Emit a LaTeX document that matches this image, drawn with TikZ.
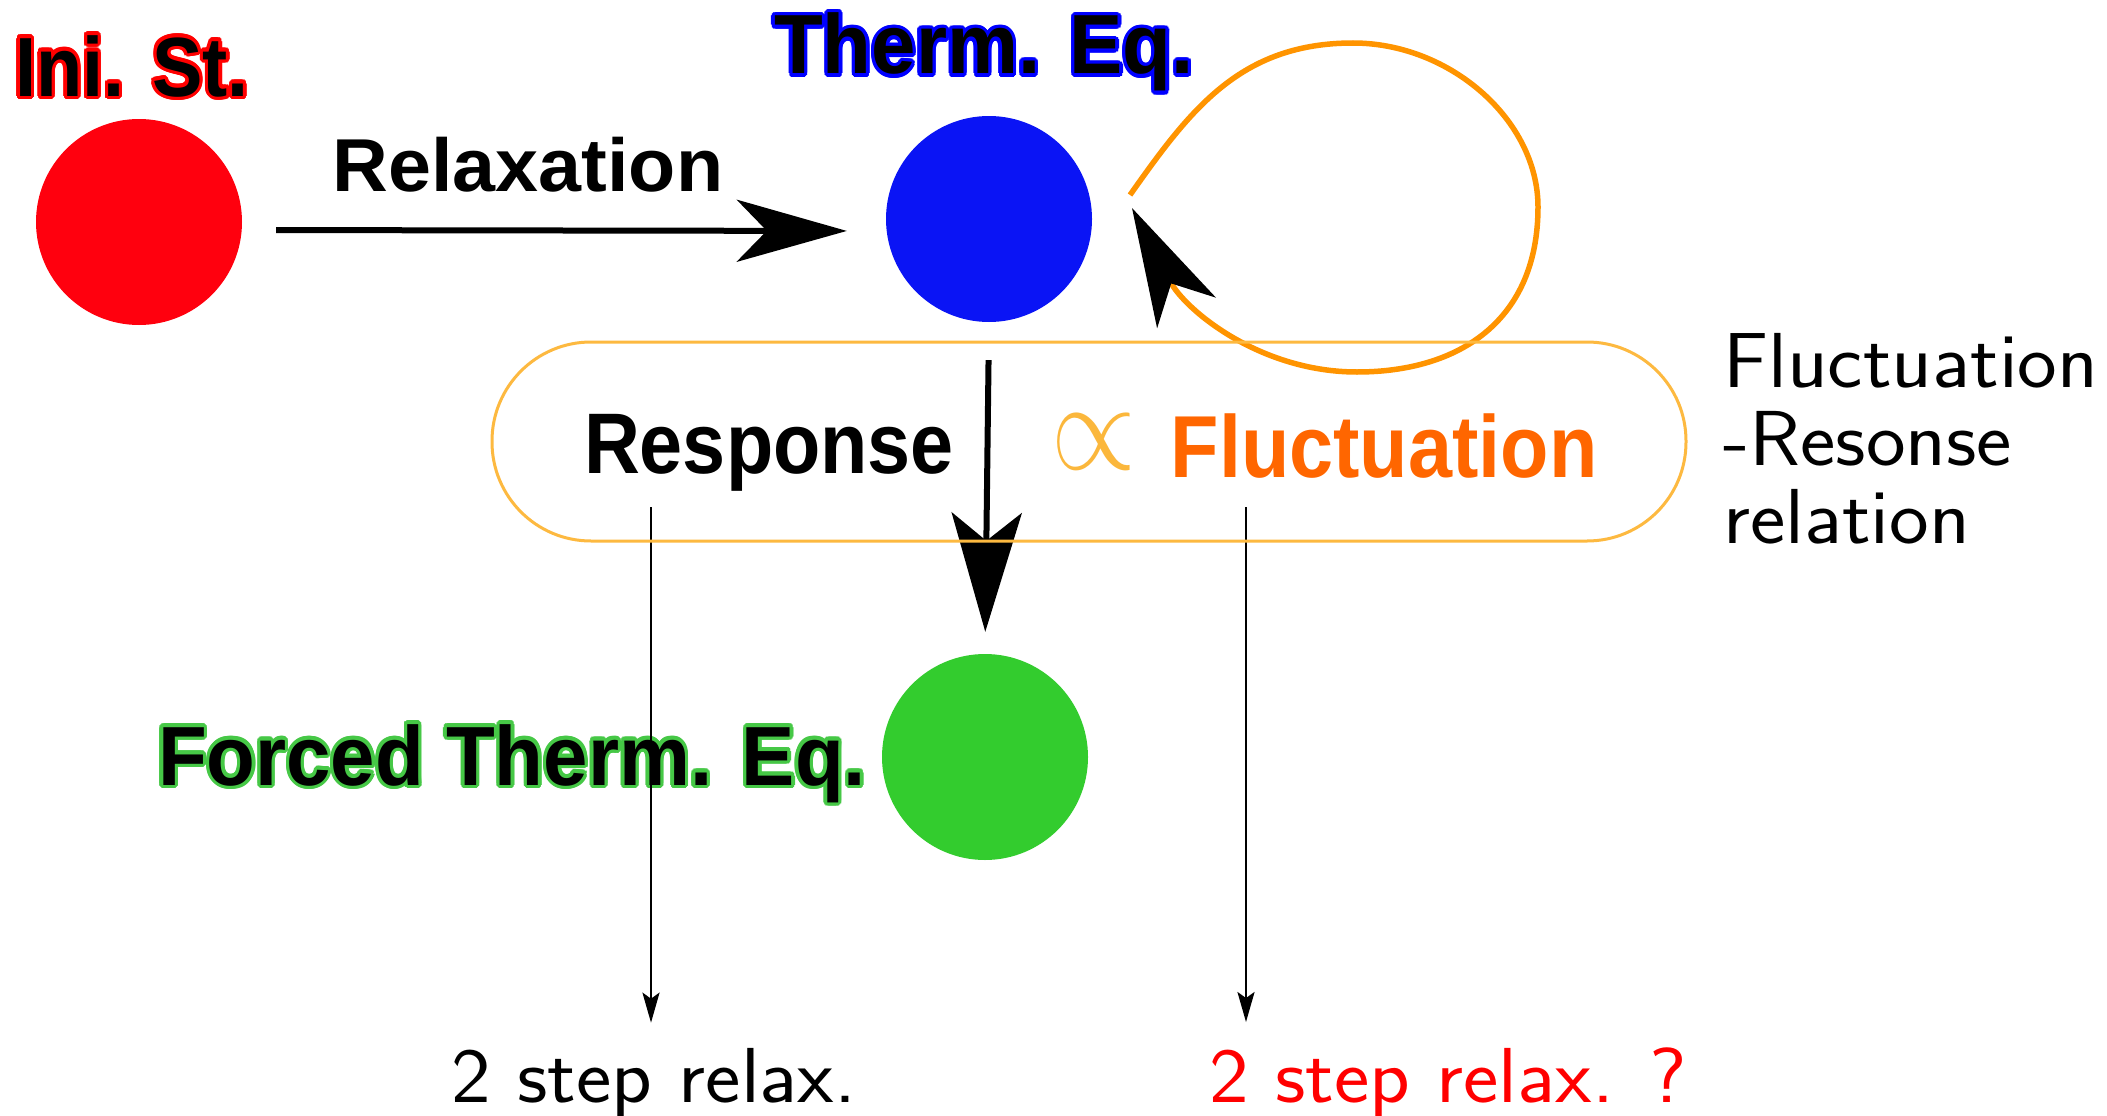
\RequirePackage{fix-cm}
\documentclass[tikz,border=0pt]{standalone}
\usepackage{fontspec}
\usepackage{graphicx}
\usetikzlibrary{arrows.meta}
\newfontfamily\lsans{Liberation Sans}
\definecolor{cred}{RGB}{255,0,14}
\definecolor{cblue}{RGB}{10,20,245}
\definecolor{cgreen}{RGB}{51,204,46}
\definecolor{ored}{RGB}{255,0,0}
\definecolor{oblue}{RGB}{0,0,255}
\definecolor{ogreen}{RGB}{70,200,70}
\definecolor{cloop}{RGB}{255,148,0}
\definecolor{cbox}{RGB}{253,185,64}
\definecolor{cfluct}{RGB}{255,102,0}
\definecolor{cprop}{RGB}{251,183,60}
\newcommand\olt[3]{%
  \foreach \a in {0,22.5,...,337.5}{%
    \pgfmathsetmacro\olx{3.3*cos(\a)}\pgfmathsetmacro\oly{3.3*sin(\a)}%
    \rlap{\hspace*{\olx pt}\raisebox{\oly pt}{\textcolor{#1}{\scalebox{#2}[1]{#3}}}}}%
  \textcolor{black}{\scalebox{#2}[1]{#3}}}
\tikzset{
  circ/.style={circle, minimum size=206pt, inner sep=0pt, draw=none},
  lbl/.style={inner sep=0pt, anchor=base},
  big/.style={font=\lsans\bfseries\fontsize{84}{90}\selectfont},
  mid/.style={font=\lsans\bfseries\fontsize{86}{90}\selectfont},
  sflbl/.style={font=\sffamily\fontsize{78}{78}\selectfont},
  heavy/.style={line width=6pt, black},
  thinarr/.style={line width=2.5pt, black, -{Stealth[length=30pt,width=17pt,inset=6pt]}},
}
\begin{document}
\begin{tikzpicture}[x=1pt,y=-1pt]
\fill[white] (0,0) rectangle (2107,1116);
\useasboundingbox (0,0) rectangle (2107,1116);

% circles
\node[circ, fill=cred] (ini) at (139,222) {};
\node[circ, fill=cblue] (teq) at (989,219) {};
\node[circ, fill=cgreen] (feq) at (985,757) {};

% labels
\node[lbl,big] (inilbl) at (132,96) {\olt{ored}{0.9}{Ini. St.}};
\node[lbl,big] (teqlbl) at (984,74) {\olt{oblue}{0.95}{Therm. Eq.}};
\node[lbl,big] (feqlbl) at (512,785) {\olt{ogreen}{0.95}{Forced Therm. Eq.}};
\node[lbl,font=\lsans\bfseries\fontsize{75}{80}\selectfont] (rlx) at (528,191) {\scalebox{1.03}[1]{Relaxation}};
\node[lbl,mid] (resp) at (769,473) {\scalebox{0.9}[1]{Response}};
\node[lbl,font=\lsans\bfseries\fontsize{88}{90}\selectfont, text=cfluct] (fluct) at (1384,477) {\scalebox{0.9}[1]{Fluctuation}};
\node[lbl, text=cprop, font=\fontsize{128}{128}\selectfont] (prop) at (1094,469) {\scalebox{0.85}[1]{$\propto$}};
\node[inner sep=0pt, anchor=base west, align=left, sflbl] (frr) at (1723,543) {\scalebox{1.08}[1]{Fluctuation}\\\scalebox{1.08}[1]{-Resonse}\\\scalebox{1.08}[1]{relation}};
\node[lbl,sflbl] (b1) at (654,1102) {\scalebox{1.08}[1]{2 step relax.}};
\node[lbl,sflbl,text=ored] (b2) at (1448,1102) {\scalebox{1.08}[1]{2 step relax. ?}};

% connectors
\draw[heavy, -{Stealth[length=110pt,width=62pt,inset=30pt]}, shorten <=34pt, shorten >=39pt]
  ([yshift=-8pt]ini.east) -- ([yshift=-12pt]teq.west);
\draw[heavy, -{Stealth[length=119pt,width=70pt,inset=28pt]}, shorten <=38pt, shorten >=22pt]
  (teq.south) -- (feq.north);
\coordinate (ls) at (1130,195);
\coordinate (le) at (1132,208);
\draw[line width=5.5pt, cloop, -{Stealth[black,length=118pt,width=66pt,inset=33pt]}]
  (ls) .. controls (1190,110) and (1240,43) .. (1353,43)
  .. controls (1450,43) and (1538,120) .. (1538,207)
  .. controls (1538,320) and (1460,372) .. (1357,372)
  .. controls (1260,372) and (1185,310) .. (le);
\coordinate (r1) at (651,507);
\coordinate (f1) at (1246,507);
\draw[thinarr, shorten >=25pt] (r1) -- (r1 |- b1.north);
\draw[thinarr, shorten >=25pt] (f1) -- (f1 |- b2.north);

% frame of the relation
\node[draw=cbox, line width=3pt, rounded corners=99pt, minimum width=1194pt, minimum height=199pt, inner sep=0pt] (frbox) at (1089,441.5) {};
\end{tikzpicture}
\end{document}
